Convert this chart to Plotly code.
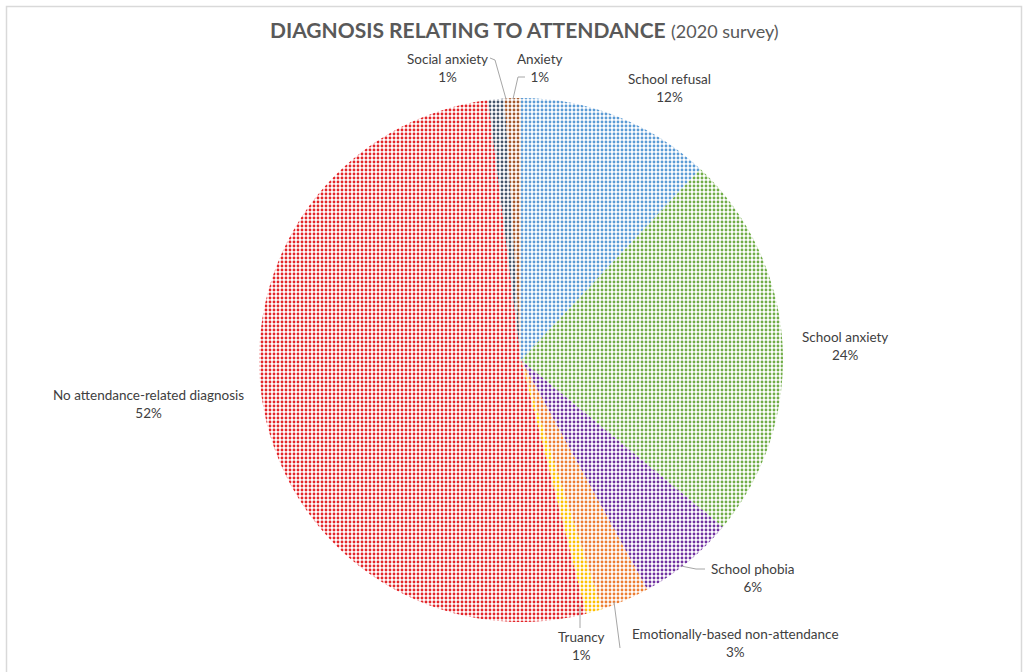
import plotly.graph_objects as go

# Survey breakdown, clockwise from 12 o'clock
categories = [
    "School refusal",
    "School anxiety",
    "School phobia",
    "Emotionally-based non-attendance",
    "Truancy",
    "No attendance-related diagnosis",
    "Social anxiety",
    "Anxiety",
]
shares = [12, 24, 6, 3, 1, 52, 1, 1]
colors = ["#5B9BD5", "#70AD47", "#7030A0", "#ED7D31", "#FFC000",
          "#E3262A", "#44546A", "#A5572A"]

W, H = 1027, 672


def px(x):
    return x / W


def py(y):
    return 1 - y / H


fig = go.Figure()
fig.add_trace(go.Pie(
    labels=categories,
    values=shares,
    sort=False,
    direction="clockwise",
    rotation=0,
    textinfo="none",
    hoverinfo="label+percent",
    marker=dict(
        colors=colors,
        line=dict(width=0),
        pattern=dict(shape=".", fgcolor=colors, bgcolor="white",
                     size=4, solidity=0.4, fillmode="replace"),
    ),
    domain=dict(x=[px(259), px(783)], y=[py(622), py(98)]),
    showlegend=False,
))

# Data labels: (category index, centre x, centre y in px)
label_pos = {
    0: (669, 88),
    1: (845, 346),
    2: (752, 578),
    3: (735, 643),
    4: (581, 646),
    5: (148, 404),
    6: (447, 68),
    7: (540, 68),
}
annotations = []
for i, (x, y) in label_pos.items():
    annotations.append(dict(
        x=px(x), y=py(y), xref="paper", yref="paper",
        text=f"{categories[i]}<br>{shares[i]}%",
        showarrow=False, xanchor="center", yanchor="middle",
        align="center",
        font=dict(family="Lato, sans-serif", size=13.5, color="#404040"),
    ))

annotations.append(dict(
    x=px(524), y=py(30), xref="paper", yref="paper",
    text="<b>DIAGNOSIS RELATING TO ATTENDANCE</b> <span style='font-size:18px'>(2020 survey)</span>",
    showarrow=False, xanchor="center", yanchor="middle",
    font=dict(family="Lato, sans-serif", size=21, color="#595959"),
))

# Leader lines for the small slices
leaders = [
    [(490, 58), (495, 60), (506, 99)],   # Social anxiety
    [(513, 99), (518, 77), (525, 77)],   # Anxiety
    [(681, 566), (696, 569), (705, 569)],  # School phobia
    [(614, 602), (620, 648)],            # Emotionally-based
    [(580, 606), (580, 628)],            # Truancy
]
shapes = []
for pts in leaders:
    path = "M " + " L ".join(f"{px(x)},{py(y)}" for x, y in pts)
    shapes.append(dict(type="path", path=path, xref="paper", yref="paper",
                       line=dict(color="#A6A6A6", width=1)))

# Chart area frame
shapes.append(dict(type="rect", xref="paper", yref="paper",
                   x0=px(6.5), x1=px(1021.5), y0=py(690), y1=py(6.5),
                   line=dict(color="#D9D9D9", width=1.5),
                   fillcolor="rgba(0,0,0,0)"))

fig.update_layout(
    width=W, height=H,
    margin=dict(l=0, r=0, t=0, b=0),
    paper_bgcolor="white",
    plot_bgcolor="white",
    annotations=annotations,
    shapes=shapes,
)

fig.write_html("out.html")
